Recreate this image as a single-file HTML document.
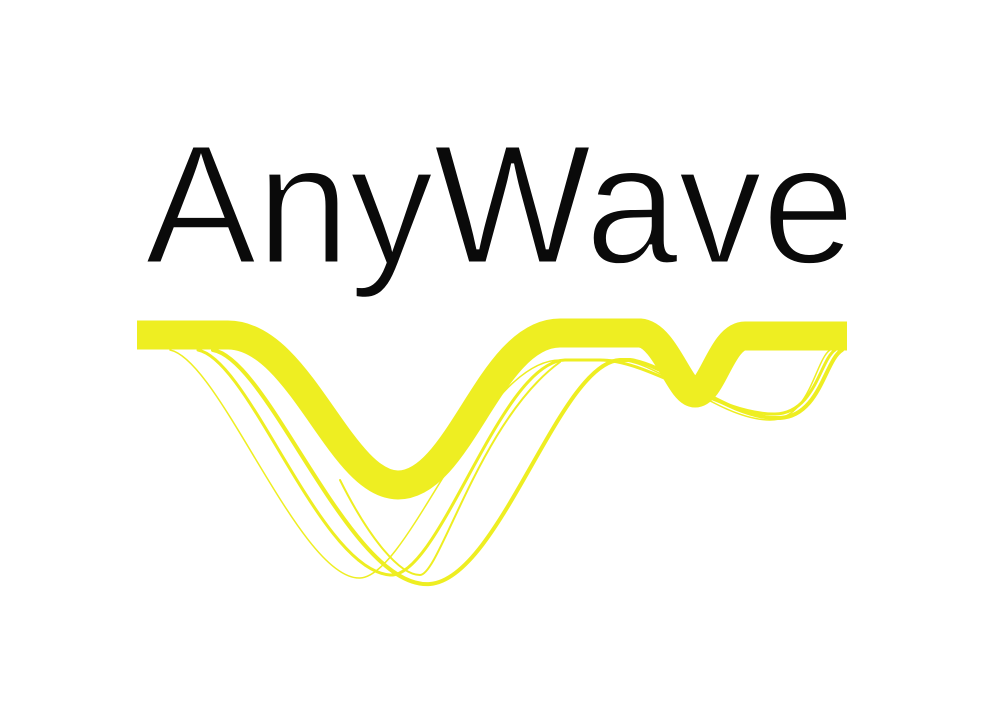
<!DOCTYPE html>
<html><head><meta charset="utf-8"><style>
html,body{margin:0;padding:0;background:#fff;}
svg{display:block}
</style></head><body>
<svg width="1000" height="719" viewBox="0 0 1000 719" xmlns="http://www.w3.org/2000/svg">
<rect width="1000" height="719" fill="#fff"/>
<text x="145" y="263" font-family="Liberation Sans, sans-serif" font-size="170" fill="#0a0a0a" stroke="#fff" stroke-width="3" paint-order="fill stroke" textLength="710" lengthAdjust="spacingAndGlyphs">AnyWave</text>
<g fill="none" stroke="#eeee22" stroke-linecap="round">
<path stroke-width="1.5" d="M170 350 C220 360 300 580 360 578 C410 576 480 360 560 360 L620 360 C660 362 720 420 770 420 C810 420 815 360 830 350"/>
<path stroke-width="3" d="M198 350 C250 360 320 570 390 575 C440 578 500 362 565 360 L600 360 C650 360 720 415 775 414 C815 413 820 360 835 350"/>
<path stroke-width="4" d="M213 350 C270 360 350 590 430 584 C500 578 560 362 620 360 L630 360 C670 365 730 420 780 418 C820 416 825 360 842 350"/>
<path stroke-width="2" d="M340 480 C370 540 400 575 420 575 C440 575 480 420 560 362"/>
</g>
<path fill="none" stroke="#eeee22" stroke-width="29" stroke-linejoin="round" d="M137 335 L228 335 C300 335 340 485 398 485 C460 485 490 333 560 333 L640 333 C665 335 680 393 695 393 C712 393 722 336 745 336 L847 336"/>
</svg>
</body></html>
